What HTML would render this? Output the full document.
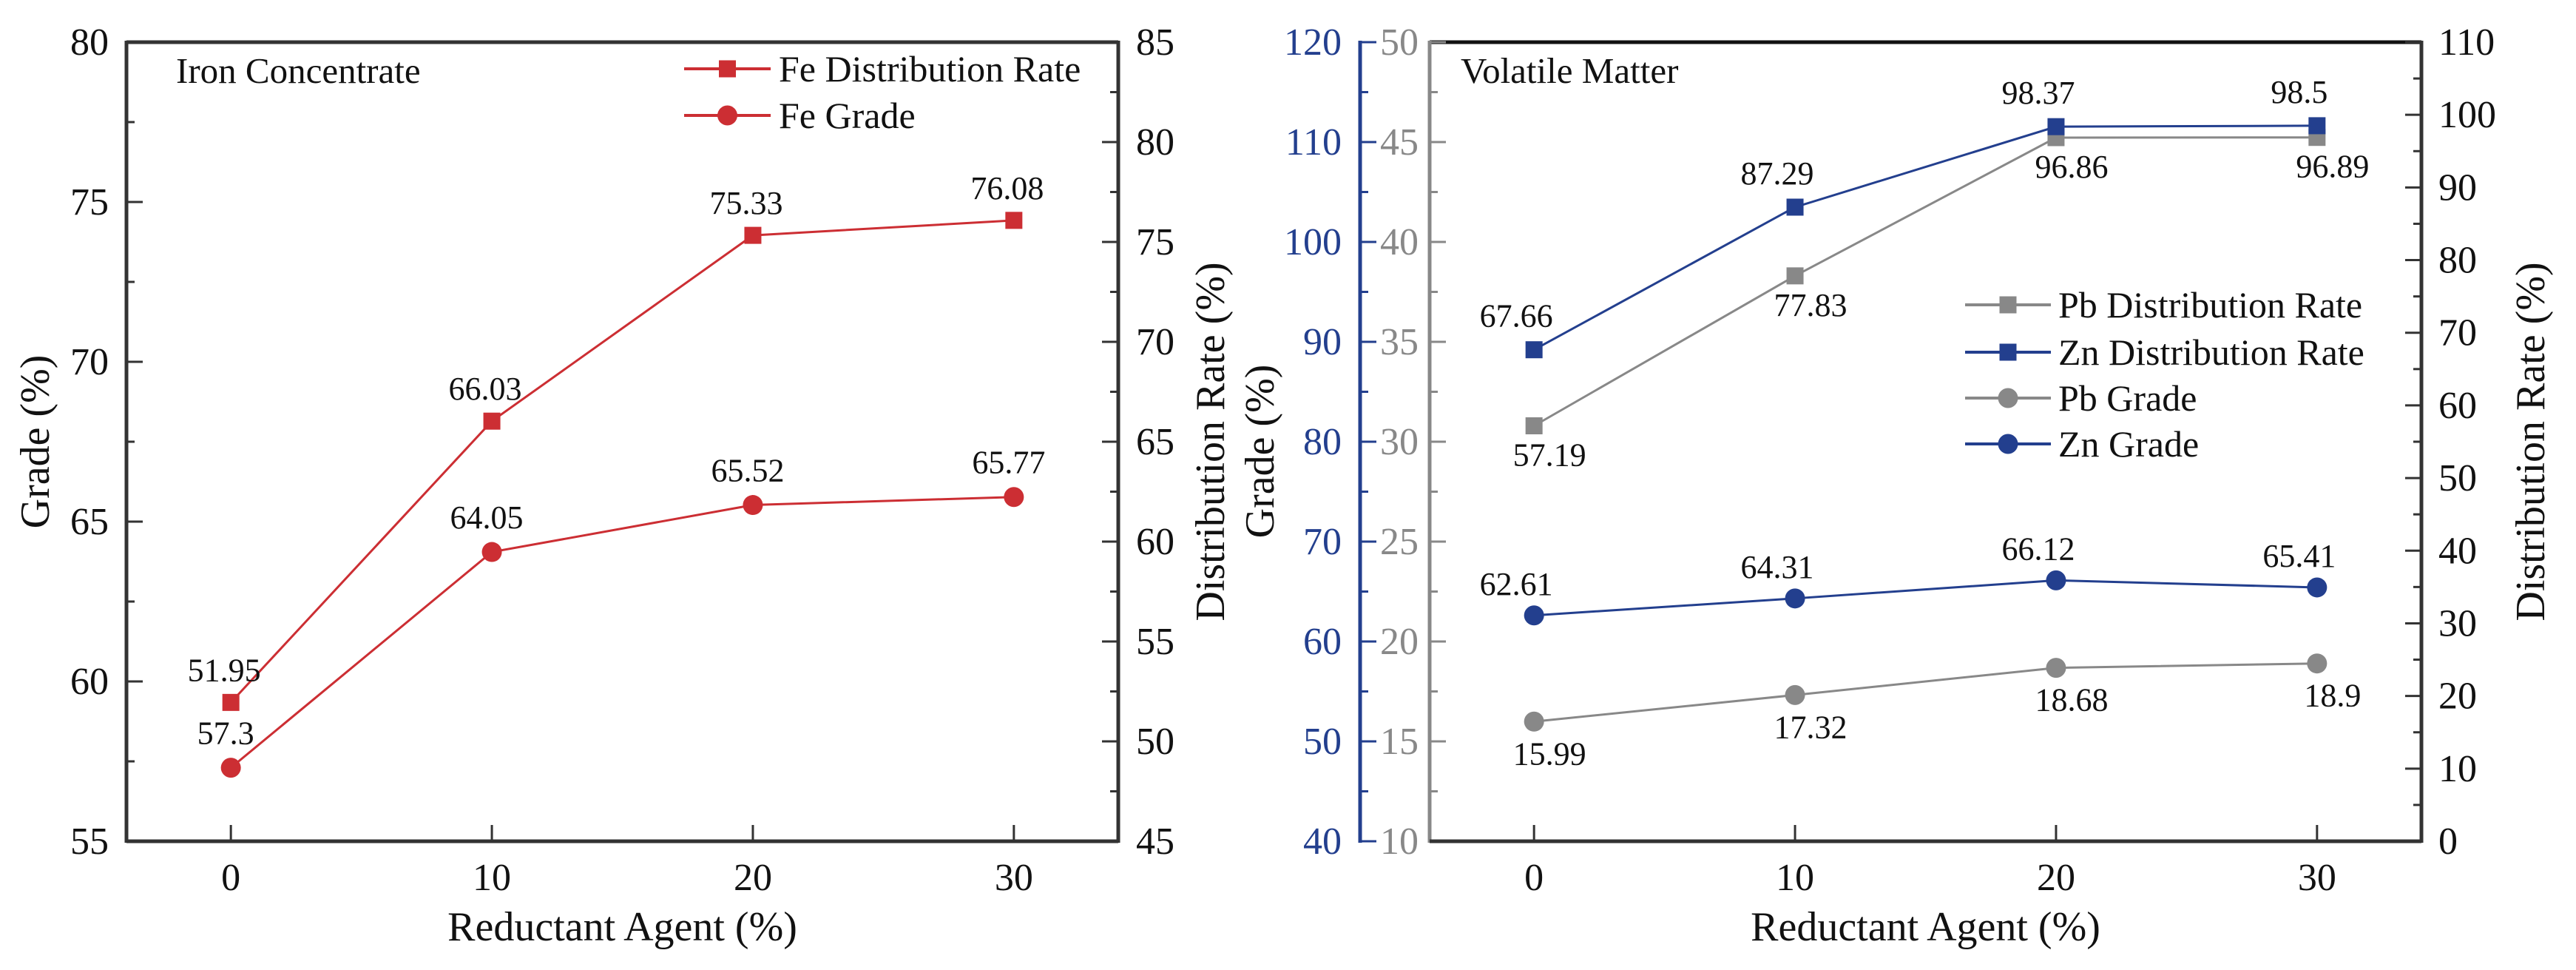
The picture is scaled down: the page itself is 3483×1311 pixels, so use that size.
<!DOCTYPE html>
<html><head><meta charset="utf-8">
<style>
html,body{margin:0;padding:0;background:#fff;}
svg{display:block;font-family:"Liberation Serif",serif;}
</style></head>
<body>
<svg id="chart" width="3483" height="1311" viewBox="0 0 3483 1311" xmlns="http://www.w3.org/2000/svg"></svg>
<script>
// ---- data ----
const xCats = [0, 10, 20, 30];
const xTicks = [0, 10, 20, 30];
// left panel (Iron Concentrate)
const feGrade = [57.3, 64.05, 65.52, 65.77];
const feDist = [51.95, 66.03, 75.33, 76.08];
const gradeTicksL = [55, 60, 65, 70, 75, 80];
const distTicksL = [45, 50, 55, 60, 65, 70, 75, 80, 85];
// right panel (Volatile Matter)
const pbDist = [57.19, 77.83, 96.86, 96.89];
const znDist = [67.66, 87.29, 98.37, 98.5];
const pbGrade = [15.99, 17.32, 18.68, 18.9];
const znGrade = [62.61, 64.31, 66.12, 65.41];
const pbTicks = [10, 15, 20, 25, 30, 35, 40, 45, 50];
const znTicks = [40, 50, 60, 70, 80, 90, 100, 110, 120];
const distTicksR = [0, 10, 20, 30, 40, 50, 60, 70, 80, 90, 100, 110];

const NS = "http://www.w3.org/2000/svg";
const svg = document.getElementById("chart");
const RED = "#cc2e33", BLUE = "#233f8e", GRAY = "#888888", AX = "#333333";
function el(tag, attrs, parent) {
  const e = document.createElementNS(NS, tag);
  for (const k in attrs) e.setAttribute(k, attrs[k]);
  (parent || svg).appendChild(e);
  return e;
}
function txt(s, x, y, size, fill, anchor, parent, rot) {
  const t = el("text", {x: x, y: y, "font-size": size, fill: fill, "text-anchor": anchor || "middle"}, parent);
  if (rot) t.setAttribute("transform", "rotate(-90 " + x + " " + y + ")");
  t.textContent = s;
  return t;
}
function lin(d0, d1, r0, r1) { return v => r0 + (v - d0) / (d1 - d0) * (r1 - r0); }

const TOP = 57, BOT = 1137;

function marker(shape, x, y, color, g) {
  if (shape === "sq") return el("rect", {x: x - 11.5, y: y - 11.5, width: 23, height: 23, fill: color}, g);
  return el("circle", {cx: x, cy: y, r: 13.5, fill: color}, g);
}

function series(vals, sx, sy, color, shape, name, labelDx, labelDy) {
  const g = el("g", {});
  
  
  const pts = vals.map((v, i) => sx(xCats[i]) + "," + sy(v)).join(" ");
  el("polyline", {points: pts, fill: "none", stroke: color, "stroke-width": 3}, g);
  vals.forEach((v, i) => {
    const m = marker(shape, sx(xCats[i]), sy(v), color, g);
    
    
    const t = txt(String(v), sx(xCats[i]) + labelDx, sy(v) + labelDy, 44, "#111", "middle", g);
    
    
  });
}

function legend(items, x0, ys, x1, tx) {
  const g = el("g", {});
  
  
  items.forEach((it, i) => {
    const y = ys[i];
    const e = el("g", {}, g);
    
    
    el("line", {x1: x0, y1: y, x2: x1, y2: y, stroke: it.c, "stroke-width": 4}, e);
    marker(it.s, (x0 + x1) / 2, y, it.c, e);
    txt(it.t, tx, y + 17, 50, "#111", "start", e);
  });
}

function xAxis(sx, l, r) {
  const g = el("g", {});
  
  
  el("line", {x1: l, y1: BOT, x2: r, y2: BOT, stroke: AX, "stroke-width": 5}, g);
  xTicks.forEach(v => {
    el("line", {x1: sx(v), y1: BOT, x2: sx(v), y2: BOT - 22, stroke: AX, "stroke-width": 3}, g);
    txt(String(v), sx(v), 1203, 52, "#111", "middle", g);
  });
  const t = txt("Reductant Agent (%)", (l + r) / 2, 1271, 56, "#111", "middle");
  
  
}

function yAxis(ticks, sy, x, side, color, labelX, anchor, name, minor) {
  const g = el("g", {});
  
  
  el("line", {x1: x, y1: TOP - 2, x2: x, y2: BOT + 2, stroke: color, "stroke-width": 5}, g);
  const dir = side === "right" ? -1 : 1; // tick direction
  ticks.forEach((v, i) => {
    el("line", {x1: x, y1: sy(v), x2: x + dir * 22, y2: sy(v), stroke: color, "stroke-width": 3}, g);
    txt(String(v), labelX, sy(v) + 17, 52, color === AX ? "#111" : color, anchor, g);
    if (i < ticks.length - 1) {
      const m = (v + ticks[i + 1]) / 2;
      el("line", {x1: x, y1: sy(m), x2: x + dir * 11, y2: sy(m), stroke: color, "stroke-width": 3}, g);
    }
  });
}

// ---------- LEFT PANEL ----------
const L1 = 171, R1 = 1512;
const sxL = lin(-4, 34, L1, R1);
const syG = lin(55, 80, BOT, TOP);
const syD = lin(45, 85, BOT, TOP);
el("line", {x1: L1, y1: TOP, x2: R1, y2: TOP, stroke: AX, "stroke-width": 5});
yAxis(gradeTicksL, syG, L1, "left", AX, 147, "end", "left-y-axis-grade");
yAxis(distTicksL, syD, R1, "right", AX, 1536, "start", "right-y-axis-distribution");
xAxis(sxL, L1, R1);
let t;
t = txt("Grade (%)", 66, 597, 56, "#111", "middle", null, true);
 
t = txt("Distribution Rate (%)", 1655, 597, 56, "#111", "middle", null, true);
 
t = txt("Iron Concentrate", 238, 112, 49, "#111", "start");
 
series(feDist, sxL, syD, RED, "sq", "fe-distribution-series", -9, -29);
series(feGrade, sxL, syG, RED, "ci", "fe-grade-series", -7, -32);
legend([{t: "Fe Distribution Rate", c: RED, s: "sq"}, {t: "Fe Grade", c: RED, s: "ci"}], 925, [93, 156], 1042, 1053);

// ---------- RIGHT PANEL ----------
const L2 = 1933, R2 = 3274, BX = 1839;
const sxR = lin(-4, 34, L2, R2);
const syPb = lin(10, 50, BOT, TOP);
const syZn = lin(40, 120, BOT, TOP);
const syDR = lin(0, 110, BOT, TOP);
el("line", {x1: L2, y1: TOP, x2: R2, y2: TOP, stroke: "#111", "stroke-width": 5});
yAxis(pbTicks, syPb, L2, "left", GRAY, 1866, "start", "pb-grade-axis");
yAxis(znTicks, syZn, BX, "left", BLUE, 1814, "end", "zn-grade-axis");
yAxis(distTicksR, syDR, R2, "right", AX, 3297, "start", "right-y-axis-distribution-2");
xAxis(sxR, L2, R2);
t = txt("Grade (%)", 1722, 610, 56, "#111", "middle", null, true);
 
t = txt("Distribution Rate (%)", 3440, 597, 56, "#111", "middle", null, true);
 
t = txt("Volatile Matter", 1975, 112, 49, "#111", "start");
 
series(pbDist, sxR, syDR, GRAY, "sq", "pb-distribution-series", 21, 54);
series(znDist, sxR, syDR, BLUE, "sq", "zn-distribution-series", -24, -31);
series(pbGrade, sxR, syPb, GRAY, "ci", "pb-grade-series", 21, 58);
series(znGrade, sxR, syZn, BLUE, "ci", "zn-grade-series", -24, -28);
legend([{t: "Pb Distribution Rate", c: GRAY, s: "sq"}, {t: "Zn Distribution Rate", c: BLUE, s: "sq"},
        {t: "Pb Grade", c: GRAY, s: "ci"}, {t: "Zn Grade", c: BLUE, s: "ci"}],
       2657, [412, 476, 538, 600], 2773, 2783);
</script>
</body></html>
